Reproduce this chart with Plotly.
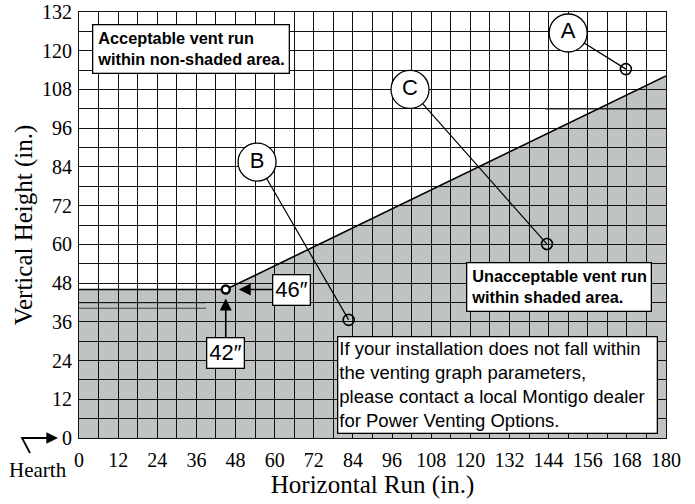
import plotly.graph_objects as go

# ---- data ----
boundary_x = [0, 45, 180]
boundary_y = [46, 46, 112.2]
corner_x = 45
corner_y = 46

label_names = ["A", "B", "C"]
label_x = [150, 54.6, 101.5]
label_y = [125.5, 85.5, 108]
point_x = [167.7, 82.7, 143.5]
point_y = [114.3, 36.6, 60.1]

# stray drafting lines visible in the original drawing
stray_x = [[0, 39], [0, 39], [143, 180]]
stray_y = [[41.9, 41.9], [40.2, 40.2], [102, 102]]
stray_w = [0.8, 0.8, 1.6]

x_ticks = list(range(0, 181, 12))
y_ticks = list(range(0, 133, 12))

GRAY = "#c0c3c3"
fig = go.Figure()

# shaded region (below gridlines)
path = f"M {boundary_x[0]},0 " + " ".join(f"L {x},{y}" for x, y in zip(boundary_x, boundary_y)) + f" L {boundary_x[-1]},0 Z"
fig.add_shape(type="path", path=path, xref="x", yref="y", fillcolor=GRAY,
              line=dict(width=0), layer="below")

for sx, sy, sw in zip(stray_x, stray_y, stray_w):
    fig.add_trace(go.Scatter(x=sx, y=sy, mode="lines",
                             line=dict(color="#222222", width=sw), hoverinfo="skip"))

# boundary line
fig.add_trace(go.Scatter(x=boundary_x, y=boundary_y, mode="lines",
                         line=dict(color="black", width=1.6), hoverinfo="skip"))

# leader lines
for lx, ly, px_, py_ in zip(label_x, label_y, point_x, point_y):
    fig.add_trace(go.Scatter(x=[lx, px_], y=[ly, py_], mode="lines",
                             line=dict(color="black", width=1.2), hoverinfo="skip"))

# small point circles
fig.add_trace(go.Scatter(x=point_x, y=point_y, mode="markers",
                         marker=dict(symbol="circle-open", size=11, color="black",
                                     line=dict(width=1.6)), hoverinfo="skip"))
fig.add_trace(go.Scatter(x=[corner_x], y=[corner_y], mode="markers",
                         marker=dict(symbol="circle", size=8, color="white",
                                     line=dict(color="black", width=2.4)), hoverinfo="skip"))

# label circles
fig.add_trace(go.Scatter(x=label_x, y=label_y, mode="markers+text", text=label_names,
                         textposition="middle center",
                         textfont=dict(family="Liberation Sans", size=22, color="black"),
                         marker=dict(symbol="circle", size=38, color="white",
                                     line=dict(color="black", width=1.3)),
                         hoverinfo="skip"))

BOLD_FONT = dict(family="Liberation Sans", size=16.3, color="black")
# text boxes
fig.add_annotation(x=4, y=128.3, xref="x", yref="y", xanchor="left", yanchor="top",
                   text="<b>Acceptable vent run<br>within non-shaded area.</b>",
                   showarrow=False, align="left", font=BOLD_FONT,
                   bgcolor="white", bordercolor="black", borderwidth=1.3, borderpad=4)
fig.add_annotation(x=118.7, y=54.5, xref="x", yref="y", xanchor="left", yanchor="top",
                   text="<b>Unacceptable vent run<br>within shaded area.</b>",
                   showarrow=False, align="left", font=BOLD_FONT,
                   bgcolor="white", bordercolor="black", borderwidth=1.3, borderpad=4)
fig.add_annotation(x=79.1, y=31.6, xref="x", yref="y", xanchor="left", yanchor="top",
                   text="If your installation does not fall within<br>the venting graph parameters,<br>please contact a local Montigo dealer<br>for Power Venting Options.",
                   showarrow=False, align="left", width=316,
                   font=dict(family="Liberation Sans", size=18.5, color="black"),
                   bgcolor="white", bordercolor="black", borderwidth=1.3, borderpad=1)

# 46" and 42" callouts
fig.add_annotation(x=corner_x, y=corner_y, xref="x", yref="y", ax=66, ay=0,
                   text="46″", showarrow=True, arrowhead=2, arrowsize=1.5, arrowwidth=1.6,
                   arrowcolor="black",
                   standoff=13, font=dict(family="Liberation Sans", size=22, color="black"),
                   bgcolor="white", bordercolor="black", borderwidth=1.3, borderpad=2)
fig.add_annotation(x=corner_x, y=corner_y, xref="x", yref="y", ax=0, ay=63,
                   text="42″", showarrow=True, arrowhead=2, arrowsize=1.5, arrowwidth=1.6,
                   arrowcolor="black",
                   standoff=9, font=dict(family="Liberation Sans", size=22, color="black"),
                   bgcolor="white", bordercolor="black", borderwidth=1.3, borderpad=2)

# Hearth label and bent arrow (positions given in page pixels, converted to paper)
W, H = 587, 426
def px(xp):
    return (xp - 79) / W
def py(yp):
    return (438 - yp) / H
fig.add_annotation(x=px(38), y=py(470), xref="paper", yref="paper", text="Hearth",
                   xanchor="center", yanchor="middle",
                   showarrow=False, font=dict(family="Liberation Serif", size=21, color="black"))
fig.add_shape(type="path", xref="paper", yref="paper",
              path=f"M {px(30)},{py(453)} L {px(22)},{py(438)} L {px(48)},{py(438)}",
              line=dict(color="black", width=1.8))
fig.add_annotation(x=px(58), y=py(438), xref="paper", yref="paper", ax=-12, ay=0,
                   text="", showarrow=True, arrowhead=2, arrowsize=1.3, arrowwidth=1.8,
                   arrowcolor="black")

axis_font = dict(family="Liberation Serif", size=20, color="black")
fig.update_xaxes(range=[0, 180], tickvals=x_ticks, ticktext=[str(v) for v in x_ticks],
                 showgrid=True, gridcolor="#111111", gridwidth=1,
                 minor=dict(dtick=6, showgrid=True, gridcolor="#111111", gridwidth=1),
                 zeroline=False, showline=True, linecolor="#111111", linewidth=1, mirror=True,
                 ticks="", tickfont=axis_font, ticklabelstandoff=4, automargin=False,
                 title=dict(text="Horizontal Run (in.)", font=dict(family="Liberation Serif", size=25, color="black"), standoff=4))
fig.update_yaxes(range=[0, 132], tickvals=y_ticks, ticktext=[str(v) for v in y_ticks],
                 showgrid=True, gridcolor="#111111", gridwidth=1,
                 minor=dict(dtick=6, showgrid=True, gridcolor="#111111", gridwidth=1),
                 zeroline=False, showline=True, linecolor="#111111", linewidth=1, mirror=True,
                 ticks="", tickfont=axis_font, ticklabelstandoff=2, automargin=False,
                 title=dict(text="Vertical Height (in.)", font=dict(family="Liberation Serif", size=25, color="black"), standoff=2))

fig.update_layout(width=695, height=504, margin=dict(l=79, r=29, t=12, b=66),
                  plot_bgcolor="white", paper_bgcolor="white", showlegend=False)

# remove the browser's default 8px body margin so the figure fills the window exactly
fig.write_html("out.html", config={"displayModeBar": False},
               post_script="document.body.style.margin='0px';document.body.style.overflow='hidden';")
